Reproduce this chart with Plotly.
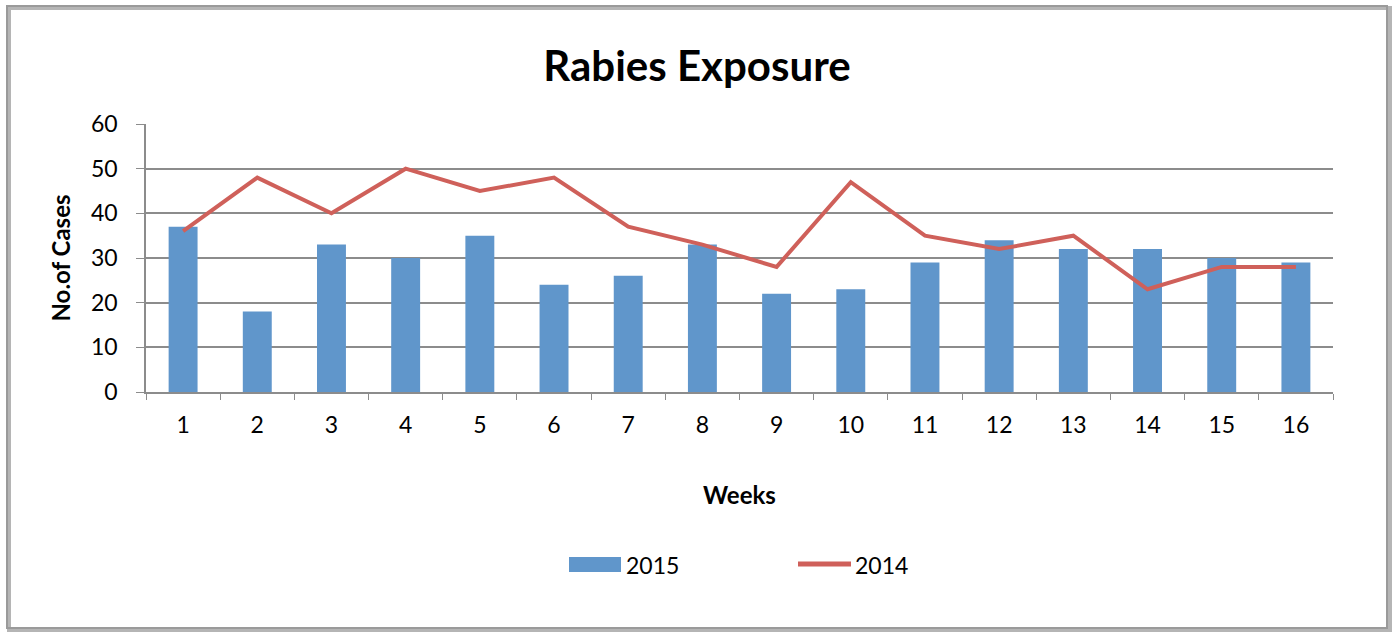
import plotly.graph_objects as go

weeks = [str(i) for i in range(1, 17)]
cases_2015 = [37, 18, 33, 30, 35, 24, 26, 33, 22, 23, 29, 34, 32, 32, 30, 29]
cases_2014 = [36, 48, 40, 50, 45, 48, 37, 33, 28, 47, 35, 32, 35, 23, 28, 28]
y_ticks = [0, 10, 20, 30, 40, 50, 60]

FONT = "Lato"
BAR_COLOR = "#6096CB"
LINE_COLOR = "#CF605A"
L, R, T, B = 146, 64, 124, 243
W, H = 1397, 635
PW, PH = W - L - R, H - T - B

def px(x):
    return (x - L) / PW

def py(y):
    return (H - B - y) / PH

fig = go.Figure()
fig.add_trace(go.Bar(x=weeks, y=cases_2015, name="2015", marker=dict(color=BAR_COLOR, line=dict(width=0)), width=0.39))
fig.add_trace(go.Scatter(x=weeks, y=cases_2014, name="2014", mode="lines", line=dict(color=LINE_COLOR, width=4)))

shapes = [
    # frame shadow and border
    dict(type="rect", xref="paper", yref="paper", x0=px(9), x1=px(1390), y0=py(630), y1=py(8),
         line=dict(color="#B5B5B5", width=4), fillcolor="rgba(0,0,0,0)", layer="below"),
    dict(type="rect", xref="paper", yref="paper", x0=px(7), x1=px(1387), y0=py(628), y1=py(6),
         line=dict(color="#9A9A9A", width=2), fillcolor="rgba(0,0,0,0)", layer="below"),
    # legend symbols
    dict(type="rect", xref="paper", yref="paper", x0=px(569), x1=px(621), y0=py(572), y1=py(557),
         line=dict(width=0), fillcolor=BAR_COLOR),
    dict(type="line", xref="paper", yref="paper", x0=px(798), x1=px(851), y0=py(564), y1=py(564),
         line=dict(color=LINE_COLOR, width=5)),
]
annotations = [
    dict(text="2015", xref="paper", yref="paper", x=px(624), y=py(565), xanchor="left", yanchor="middle",
         showarrow=False, font=dict(size=23, family=FONT, color="black")),
    dict(text="2014", xref="paper", yref="paper", x=px(853), y=py(565), xanchor="left", yanchor="middle",
         showarrow=False, font=dict(size=23, family=FONT, color="black")),
]

fig.update_layout(
    width=W, height=H,
    margin=dict(l=L, r=R, t=T, b=B),
    paper_bgcolor="white", plot_bgcolor="white",
    font=dict(family=FONT, size=23, color="black"),
    title=dict(text="<b>Rabies Exposure</b>", x=697 / W, xref="container", xanchor="center",
               y=1 - 66 / H, yanchor="middle",
               font=dict(size=42, family=FONT, color="black")),
    showlegend=False,
    shapes=shapes,
    annotations=annotations,
)
fig.update_xaxes(type="category", range=[-0.5, 15.5], tickson="boundaries", ticks="outside", ticklen=6,
                 tickcolor="#8C8C8C", showline=True, linecolor="#8C8C8C", linewidth=1.5, showgrid=False,
                 ticklabelstandoff=12,
                 title=dict(text="<b>Weeks</b>", font=dict(size=24, family=FONT), standoff=50),
                 tickfont=dict(size=23))
fig.update_yaxes(range=[0, 60], tickvals=y_ticks, ticks="outside", ticklen=8, tickcolor="#8C8C8C",
                 showline=True, linecolor="#8C8C8C", linewidth=1.5, showgrid=True, gridcolor="#8C8C8C",
                 gridwidth=1.5, zeroline=False, ticklabelstandoff=14,
                 title=dict(text="<b>No.of Cases</b>", font=dict(size=24, family=FONT), standoff=14),
                 tickfont=dict(size=23))

fig.write_html("out.html", config={"displayModeBar": False},
               post_script="document.body.style.margin='0';document.body.style.overflow='hidden';")
